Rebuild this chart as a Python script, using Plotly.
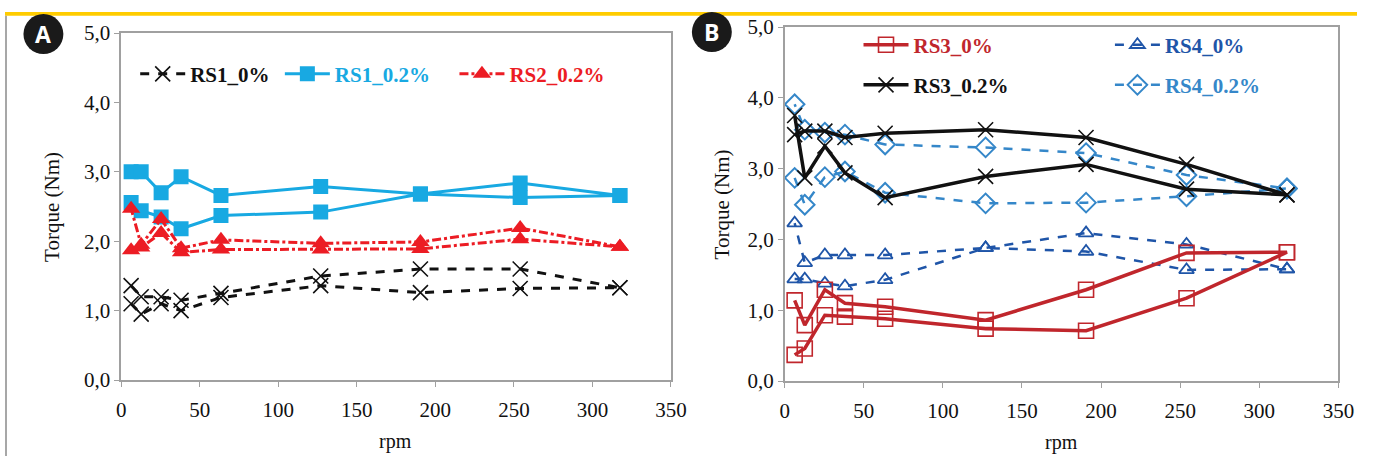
import plotly.graph_objects as go

W, H = 1373, 468

# ---------------- data ----------------
rpm = [6.3, 12.7, 25.4, 38.1, 63.5, 127, 190.5, 254, 317.5]

# Panel A (ramp up / ramp down, ascending rpm order)
rs1_0_up = [1.36, 1.20, 1.20, 1.15, 1.25, 1.50, 1.60, 1.60, 1.33]
rs1_0_down = [1.10, 0.95, 1.10, 1.00, 1.19, 1.36, 1.26, 1.32, 1.33]
rs1_02_up = [3.00, 3.00, 2.70, 2.93, 2.66, 2.79, 2.68, 2.84, 2.66]
rs1_02_down = [2.56, 2.44, 2.35, 2.18, 2.37, 2.42, 2.68, 2.63, 2.66]
rs2_02_up = [1.87, 1.91, 2.12, 1.84, 1.88, 1.88, 1.89, 2.03, 1.92]
rs2_02_down = [2.47, 1.95, 2.32, 1.90, 2.02, 1.97, 1.99, 2.19, 1.92]

# Panel B
rs3_0_up = [0.37, 0.46, 0.93, 0.91, 0.88, 0.74, 0.71, 1.17, 1.82]
rs3_0_down = [1.14, 0.79, 1.29, 1.10, 1.05, 0.86, 1.29, 1.81, 1.82]
rs3_02_up = [3.48, 3.53, 3.53, 3.44, 3.50, 3.55, 3.44, 3.06, 2.63]
rs3_02_down = [3.75, 2.87, 3.32, 2.94, 2.59, 2.89, 3.06, 2.71, 2.63]
rs4_0_up = [1.44, 1.44, 1.38, 1.34, 1.43, 1.88, 2.09, 1.93, 1.58]
rs4_0_down = [2.23, 1.67, 1.78, 1.78, 1.78, 1.88, 1.83, 1.57, 1.58]
rs4_02_up = [2.87, 2.49, 2.88, 2.96, 2.66, 2.51, 2.52, 2.61, 2.72]
rs4_02_down = [3.91, 3.55, 3.51, 3.48, 3.34, 3.30, 3.22, 2.91, 2.72]

y_ticks = [0, 1, 2, 3, 4, 5]
y_ticktext = ["0,0", "1,0", "2,0", "3,0", "4,0", "5,0"]
x_ticks = [0, 50, 100, 150, 200, 250, 300, 350]

SERIF = "Liberation Serif, Times New Roman, serif"

# positions below are given in picture pixels and mapped to paper fractions
SX, OX = 0.987, 3.5
SY, OY = 0.946, 13.0


def px(x):
    return ((x - OX) / SX) / W


def py(y):
    return 1 - ((y - OY) / SY) / H


def loop(up, down):
    return rpm + rpm[::-1], up + down[::-1]


fig = go.Figure()

# ---- panel A traces ----
A = dict(xaxis="x", yaxis="y")
x, y = loop(rs1_0_up, rs1_0_down)
fig.add_trace(go.Scatter(x=x, y=y, name="<b>RS1_0%</b>", mode="lines+markers", legend="legend",
                         line=dict(color="#111111", width=3, dash="dash"),
                         marker=dict(symbol="x-thin-open", size=15, line=dict(color="#111111", width=1.6)), **A))
x, y = loop(rs1_02_up, rs1_02_down)
fig.add_trace(go.Scatter(x=x, y=y, name="<b>RS1_0.2%</b>", mode="lines+markers", legend="legend2",
                         line=dict(color="#18A9E2", width=3),
                         marker=dict(symbol="square", size=15, color="#18A9E2"), **A))
x, y = loop(rs2_02_up, rs2_02_down)
fig.add_trace(go.Scatter(x=x, y=y, name="<b>RS2_0.2%</b>", mode="lines+markers", legend="legend3",
                         line=dict(color="#EC1C24", width=3, dash="dashdot"),
                         marker=dict(symbol="triangle-up", size=16, color="#EC1C24"), **A))

# ---- panel B traces ----
B = dict(xaxis="x2", yaxis="y2")
x, y = loop(rs4_02_up, rs4_02_down)
fig.add_trace(go.Scatter(x=x, y=y, name="<b>RS4_0.2%</b>", mode="lines+markers", legend="legend7",
                         line=dict(color="#3587C9", width=2.5, dash="dash"),
                         marker=dict(symbol="diamond-open", size=15, color="#3587C9", line=dict(width=2)), **B))
x, y = loop(rs4_0_up, rs4_0_down)
fig.add_trace(go.Scatter(x=x, y=y, name="<b>RS4_0%</b>", mode="lines+markers", legend="legend6",
                         line=dict(color="#1F55A8", width=2.5, dash="dash"),
                         marker=dict(symbol="triangle-up-open", size=13, color="#1F55A8", line=dict(width=1.8)), **B))
x, y = loop(rs3_02_up, rs3_02_down)
fig.add_trace(go.Scatter(x=x, y=y, name="<b>RS3_0.2%</b>", mode="lines+markers", legend="legend5",
                         line=dict(color="#111111", width=3.5),
                         marker=dict(symbol="x-thin-open", size=15, line=dict(color="#111111", width=1.6)), **B))
x, y = loop(rs3_0_up, rs3_0_down)
fig.add_trace(go.Scatter(x=x, y=y, name="<b>RS3_0%</b>", mode="lines+markers", legend="legend4",
                         line=dict(color="#C0262C", width=3.5),
                         marker=dict(symbol="square-open", size=15, color="#C0262C", line=dict(width=1.6)), **B))

axis_common = dict(showgrid=False, zeroline=False, showline=True, linecolor="#A0A0A0", linewidth=1.6,
                   mirror=True, ticks="outside", ticklen=5, tickcolor="#A0A0A0", tickwidth=1.4,
                   tickfont=dict(family=SERIF, size=21, color="#111111"))

xa = dict(range=[0, 350], tickvals=x_ticks, ticklabelstandoff=5, **axis_common)
ya = dict(range=[0, 5], tickvals=y_ticks, ticktext=y_ticktext, **axis_common)


def leg(xp, yp, color):
    return dict(x=px(xp), y=py(yp), xanchor="left", yanchor="middle", bgcolor="rgba(0,0,0,0)",
                borderwidth=0, itemwidth=45,
                font=dict(family=SERIF, size=21, color=color))


# legend x: text start in picture minus ~57 px of symbol area
fig.update_layout(
    width=W, height=H,
    margin=dict(l=0, r=0, t=0, b=0),
    paper_bgcolor="white", plot_bgcolor="white",
    xaxis=dict(domain=[px(120), px(671)], anchor="y", **xa),
    yaxis=dict(domain=[py(380), py(34)], anchor="x", **ya),
    xaxis2=dict(domain=[px(785), px(1340)], anchor="y2", **xa),
    yaxis2=dict(domain=[py(381), py(28)], anchor="x2", **ya),
    legend=leg(134, 75, "#111111"),
    legend2=leg(279, 75, "#18A9E2"),
    legend3=leg(454, 75, "#EC1C24"),
    legend4=leg(859, 46, "#C0262C"),
    legend5=leg(859, 86, "#111111"),
    legend6=leg(1111, 46, "#1F55A8"),
    legend7=leg(1111, 86, "#3587C9"),
    showlegend=True,
)

shapes = [
    # yellow top band
    dict(type="rect", xref="paper", yref="paper", x0=0, x1=1, y0=1 - 4 / H, y1=1,
         fillcolor="#FFCC00", line=dict(width=0), layer="above"),
    # left page border
    dict(type="line", xref="paper", yref="paper", x0=px(4.5), x1=px(4.5), y0=0, y1=1 - 4 / H,
         line=dict(color="#8A8A8A", width=1.5)),
    # badges
    dict(type="circle", xref="paper", yref="paper", x0=px(22), x1=px(62), y0=py(55), y1=py(15),
         fillcolor="#1A1A1A", line=dict(width=0)),
    dict(type="circle", xref="paper", yref="paper", x0=px(692), x1=px(732), y0=py(53), y1=py(13),
         fillcolor="#1A1A1A", line=dict(width=0)),
]
fig.update_layout(shapes=shapes)

ann = [
    dict(text="<b>A</b>", x=px(42), y=py(35), font=dict(family="Open Sans", size=23, color="white")),
    dict(text="<b>B</b>", x=px(712), y=py(33), font=dict(family="Open Sans", size=23, color="white")),
    dict(text="Torque (Nm)", x=px(50), y=py(207), textangle=-90, font=dict(family=SERIF, size=21, color="#111111")),
    dict(text="Torque (Nm)", x=px(722), y=py(205), textangle=-90, font=dict(family=SERIF, size=21, color="#111111")),
    dict(text="rpm", x=px(395), y=py(441), font=dict(family=SERIF, size=20, color="#111111")),
    dict(text="rpm", x=px(1062), y=py(442), font=dict(family=SERIF, size=20, color="#111111")),
]
for a in ann:
    a.update(xref="paper", yref="paper", showarrow=False, xanchor="center", yanchor="middle")
fig.update_layout(annotations=ann)

fig.write_html("out.html", config={"displayModeBar": False},
               post_script="document.body.style.margin='0';document.body.style.overflow='hidden';")
